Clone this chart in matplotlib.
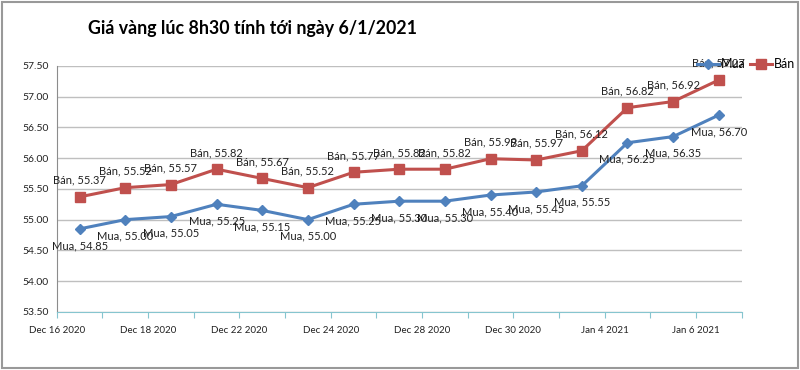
import numpy as np
import matplotlib.pyplot as plt
from matplotlib.patches import Rectangle

dates = ["Dec 16 2020", "Dec 17 2020", "Dec 18 2020", "Dec 21 2020", "Dec 22 2020",
         "Dec 23 2020", "Dec 24 2020", "Dec 25 2020", "Dec 28 2020", "Dec 29 2020",
         "Dec 30 2020", "Dec 31 2020", "Jan 4 2021", "Jan 5 2021", "Jan 6 2021"]
mua = [54.85, 55.00, 55.05, 55.25, 55.15, 55.00, 55.25, 55.30, 55.30, 55.40,
       55.45, 55.55, 56.25, 56.35, 56.70]
ban = [55.37, 55.52, 55.57, 55.82, 55.67, 55.52, 55.77, 55.82, 55.82, 55.99,
       55.97, 56.12, 56.82, 56.92, 57.27]
yticks = [53.5, 54.0, 54.5, 55.0, 55.5, 56.0, 56.5, 57.0, 57.5]

BLUE = "#4F81BD"
RED = "#C0504D"
plt.rcParams['font.family'] = ['Lato', 'DejaVu Sans']

fig = plt.figure(figsize=(8, 3.7), dpi=100)
ax = fig.add_axes([0.071, 0.157, 0.856, 0.665])

x = np.arange(len(dates))
ax.plot(x, mua, color=BLUE, lw=2.2, marker="D", ms=5, label="Mua")
ax.plot(x, ban, color=RED, lw=2.2, marker="s", ms=6.5, label="Bán")

for xi, v in zip(x, ban):
    ax.annotate(f"Bán, {v:.2f}", (xi, v), xytext=(0, 8), textcoords="offset points",
                ha="center", va="bottom", fontsize=8, color="#222222")
for xi, v in zip(x, mua):
    ax.annotate(f"Mua, {v:.2f}", (xi, v), xytext=(0, -8), textcoords="offset points",
                ha="center", va="top", fontsize=8, color="#222222")

ax.set_xlim(-0.5, len(dates) - 0.5)
ax.set_ylim(yticks[0], yticks[-1])
ax.set_yticks(yticks)
ax.set_yticklabels([f"{t:.2f}" for t in yticks], fontsize=7.5)
ax.grid(axis="y", color="#BFBFBF", lw=1)
ax.set_axisbelow(True)

bounds = np.arange(len(dates) + 1) - 0.5
ax.set_xticks(bounds)
ax.set_xticklabels([dates[i] if i % 2 == 0 and i < len(dates) else "" for i in range(len(bounds))],
                   fontsize=7)
ax.tick_params(axis="x", colors="#86C5CF", length=4, labelcolor="#222222", pad=6)
ax.tick_params(axis="y", length=0, pad=6, labelcolor="#222222")

for s in ["top", "right"]:
    ax.spines[s].set_visible(False)
ax.spines["left"].set_color("#8C8C8C")
ax.spines["bottom"].set_color("#86C5CF")

fig.legend(loc="upper left", bbox_to_anchor=(0.868, 0.85), frameon=False, ncol=2,
           fontsize=9, handlelength=1.8, columnspacing=0.3, handletextpad=0.15,
           borderaxespad=0, borderpad=0.2)

fig.text(0.316, 0.924, "Giá vàng lúc 8h30 tính tới ngày 6/1/2021", ha="center", va="center",
         fontsize=12.8, fontweight="bold")

fig.patches.append(Rectangle((0.003, 0.005), 0.994, 0.99, transform=fig.transFigure,
                             fill=False, edgecolor="#999999", lw=1.5))

fig.savefig("out.png", dpi=100)
